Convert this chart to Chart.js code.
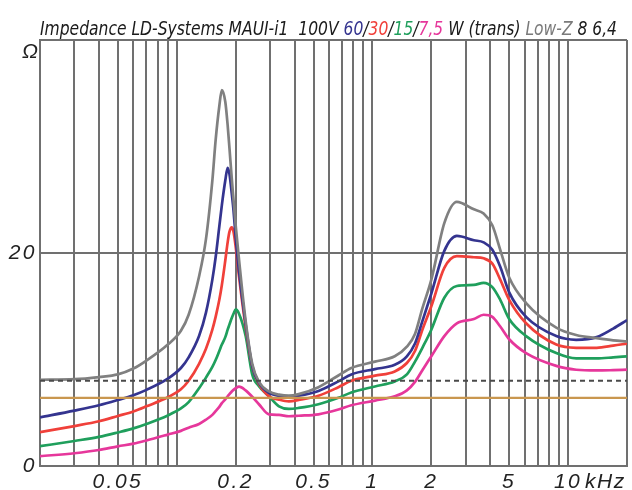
<!DOCTYPE html>
<html>
<head>
<meta charset="utf-8">
<script src="https://cdn.jsdelivr.net/npm/chart.js@4.4.1/dist/chart.umd.min.js"></script>
<style>
  html, body { margin: 0; padding: 0; background: #fff; }
  #chart { display: block; }
</style>
</head>
<body>
<canvas id="chart" width="632" height="490"></canvas>
<script>
// frequency points (Hz) and impedance (ohm) per tap
var freqs = [20, 30, 40, 50, 60, 70, 90, 105, 115, 130, 141, 152,
	158, 165, 170, 177, 182, 186, 191, 195, 200, 208,
	225, 243, 263, 296, 333, 374, 420, 530, 670, 780,
	1030, 1300, 1500, 1650, 1800, 2000, 2330, 2700, 3300, 3700,
	4100, 4500, 5000, 6100, 8700, 11000, 14000, 17000, 20000];

var lowZ = [8.1, 8.15, 8.35, 8.6, 9.15, 9.9, 11.4, 12.7, 14.2, 17.8, 21.3, 26.8,
	30.6, 33.8, 35.3, 34.2, 32.0, 29.8, 27.0, 25.0, 22.6, 19.4,
	13.6, 9.6, 7.9, 7.0, 6.7, 6.6, 6.75, 7.4, 8.5, 9.2,
	9.8, 10.3, 11.2, 12.4, 14.8, 17.5, 22.8, 24.8, 24.1, 23.7,
	22.6, 20.3, 17.7, 15.3, 13.0, 12.3, 12.0, 11.8, 11.7];

var w60 = [4.57, 5.2, 5.7, 6.2, 6.65, 7.15, 8.2, 9.2, 10.2, 12.2, 14.4, 17.5,
	19.6, 22.5, 24.5, 26.8, 28.0, 27.4, 25.6, 24.0, 21.5, 18.3,
	13.3, 9.4, 7.8, 6.86, 6.6, 6.5, 6.6, 7.05, 7.95, 8.6,
	9.1, 9.5, 10.3, 11.5, 13.6, 16.2, 20.2, 21.6, 21.2, 21.0,
	20.3, 18.7, 16.3, 14.0, 12.2, 11.85, 12.1, 12.9, 13.7];

var w30 = [3.17, 3.75, 4.2, 4.7, 5.12, 5.6, 6.45, 7.2, 8.0, 9.6, 11.0, 12.8,
	14.0, 15.6, 17.0, 19.3, 21.0, 22.0, 22.4, 22.0, 20.6, 17.8,
	13.0, 9.35, 7.7, 6.54, 6.23, 6.07, 6.2, 6.6, 7.4, 8.0,
	8.48, 8.88, 9.67, 10.8, 12.8, 15.0, 18.6, 19.7, 19.6, 19.5,
	19.0, 17.5, 15.6, 13.4, 11.4, 11.1, 11.1, 11.3, 11.5];

var w15 = [1.86, 2.35, 2.73, 3.15, 3.53, 3.95, 4.75, 5.4, 6.0, 7.3, 8.3, 9.3,
	9.95, 10.8, 11.4, 12.1, 12.8, 13.3, 13.9, 14.3, 14.7, 14.3,
	12.2, 8.6, 7.5, 6.54, 5.6, 5.36, 5.45, 5.8, 6.4, 6.9,
	7.47, 7.94, 8.6, 9.8, 11.1, 12.8, 15.8, 16.9, 17.0, 17.2,
	16.8, 15.6, 13.8, 12.2, 10.6, 10.1, 10.1, 10.2, 10.3];

var w7_5 = [0.92, 1.2, 1.5, 1.85, 2.1, 2.4, 2.95, 3.3, 3.6, 3.95, 4.35, 4.8,
	5.15, 5.55, 5.9, 6.25, 6.55, 6.75, 7.0, 7.15, 7.3, 7.45,
	7.1, 6.5, 5.8, 4.85, 4.8, 4.67, 4.72, 4.85, 5.3, 5.7,
	6.14, 6.54, 7.1, 7.9, 9.0, 10.3, 12.2, 13.4, 13.8, 14.2,
	14.0, 13.1, 11.9, 10.6, 9.4, 9.04, 8.97, 9.0, 9.04];

// nominal impedance marks (ohm)
var nominal = [8, 6.4];

// grid positions and labelled ticks
var gridFreqs = [20, 30, 40, 50, 60, 70, 80, 90, 100, 200, 300, 400, 500, 600, 700, 800, 900,
	1000, 2000, 3000, 4000, 5000, 6000, 7000, 8000, 9000, 10000, 20000];
var labelFreqs = [50, 200, 500, 1000, 2000, 5000, 10000];
var labelTexts = ['0.05', '0.2', '0.5', '1', '2', '5', '10'];
var ohmTicks = [0, 20, 40];

function pts(arr) {
	return freqs.map(function(f, i) { return {x: f, y: arr[i]}; });
}
function flat(v) {
	return [{x: freqs[0], y: v}, {x: freqs[freqs.length - 1], y: v}];
}
function curve(arr, col) {
	return {data: pts(arr), borderColor: col, borderWidth: 2.7, pointRadius: 0,
		cubicInterpolationMode: 'monotone', fill: false};
}

var tickFont = {family: '"Liberation Sans", Arial, sans-serif', size: 21, style: 'italic', lineHeight: 1.1};
var gridCol = '#707070';

// title in coloured pieces
var titleParts = [
	['Impedance LD-Systems MAUI-i1  100V ', '#1a1a1a'],
	['60', '#34348f'], ['/', '#1a1a1a'],
	['30', '#f0403a'], ['/', '#1a1a1a'],
	['15', '#1f9f5c'], ['/', '#1a1a1a'],
	['7,5', '#e6379b'],
	[' W (trans) ', '#1a1a1a'],
	['Low-Z', '#7a7a7a'],
	[' 8 6,4', '#1a1a1a']
];

var textPlugin = {
	id: 'texts',
	beforeDraw: function(c) {
		c.ctx.letterSpacing = '2.5px';
	},
	afterDraw: function(c) {
		var ctx = c.ctx, xs = c.scales.x;
		ctx.save();
		ctx.letterSpacing = '0px';
		ctx.font = 'italic 19.5px "Liberation Sans Narrow", "DejaVu Sans Condensed", sans-serif';
		ctx.textBaseline = 'alphabetic';
		ctx.textAlign = 'left';
		var tw = 0;
		titleParts.forEach(function(p) { tw += ctx.measureText(p[0]).width; });
		ctx.translate(40, 35);
		ctx.scale(577 / tw, 1);
		var px = 0;
		titleParts.forEach(function(p) {
			ctx.fillStyle = p[1];
			ctx.fillText(p[0], px, 0);
			px += ctx.measureText(p[0]).width;
		});
		ctx.restore();

		ctx.save();
		ctx.fillStyle = '#222';
		ctx.font = 'italic 21px "Liberation Sans", Arial, sans-serif';
		ctx.textBaseline = 'middle';
		ctx.letterSpacing = '0px';
		ctx.textAlign = 'right';
		ctx.fillText('\u03A9', 38, 52);
		ctx.letterSpacing = '1.5px';
		ctx.textAlign = 'left';
		ctx.fillText('kHz', xs.getPixelForValue(10000) + 17, xs.top + 5 + 11.5);
		ctx.restore();
	}
};

var chart = new Chart(document.getElementById('chart'), {
	type: 'line',
	data: {
		datasets: [
			{data: flat(nominal[0]), borderColor: '#4a4a4a', borderWidth: 2, borderDash: [5, 4], pointRadius: 0},
			{data: flat(nominal[1]), borderColor: '#c9974f', borderWidth: 2.2, pointRadius: 0},
			curve(lowZ, '#808080'),
			curve(w60, '#34348f'),
			curve(w30, '#f0403a'),
			curve(w15, '#1f9f5c'),
			curve(w7_5, '#e6379b')
		]
	},
	options: {
		responsive: false,
		animation: false,
		devicePixelRatio: 1,
		layout: {padding: {top: 40, right: 1, left: 0, bottom: 0}},
		plugins: {legend: {display: false}, tooltip: {enabled: false}, title: {display: false}},
		scales: {
			x: {
				type: 'logarithmic',
				min: 20,
				max: 20000,
				afterBuildTicks: function(s) { s.ticks = gridFreqs.map(function(v) { return {value: v}; }); },
				afterFit: function(s) { s.height = 24; },
				grid: {color: gridCol, lineWidth: 2, drawTicks: false},
				border: {color: gridCol, width: 2},
				ticks: {
					autoSkip: false, maxRotation: 0, padding: 5, color: '#222', font: tickFont,
					callback: function(v) {
						var k = labelFreqs.indexOf(v);
						return k < 0 ? '' : labelTexts[k];
					}
				}
			},
			y: {
				min: 0,
				max: 40,
				afterBuildTicks: function(s) { s.ticks = ohmTicks.map(function(v) { return {value: v}; }); },
				afterFit: function(s) { s.width = 40; },
				grid: {color: gridCol, lineWidth: 2, drawTicks: false},
				border: {color: gridCol, width: 2},
				ticks: {
					padding: 3, color: '#222', font: tickFont,
					callback: function(v) { return v === 40 ? '' : String(v); }
				}
			}
		}
	},
	plugins: [textPlugin]
});
</script>
</body>
</html>
